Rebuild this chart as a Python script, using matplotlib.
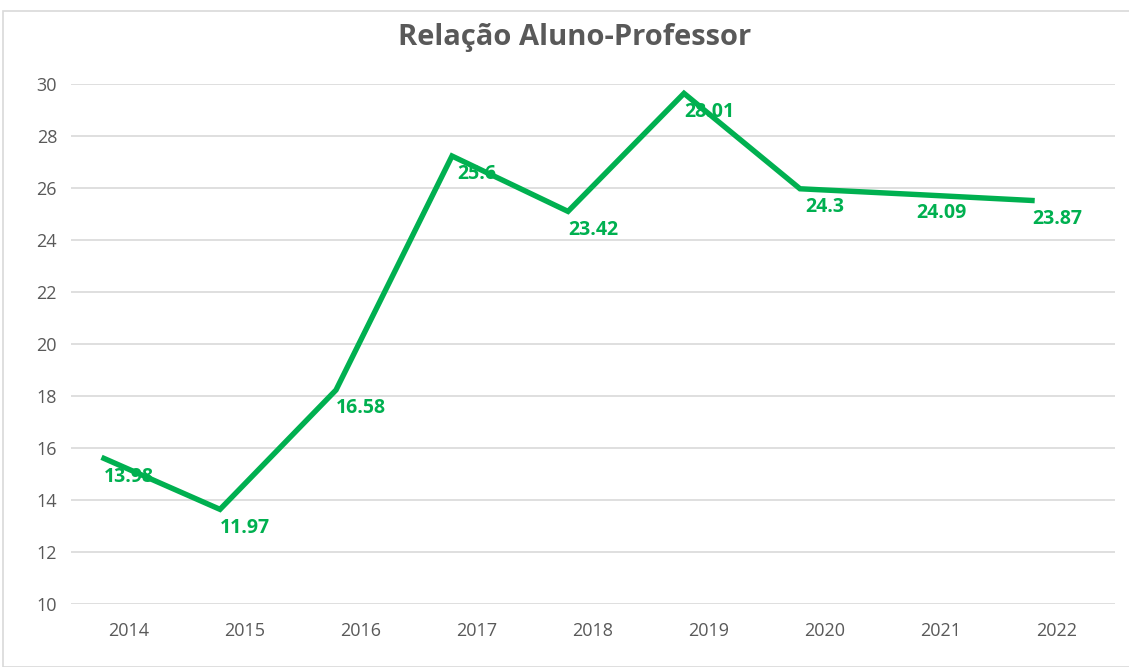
import matplotlib
matplotlib.use("Agg")
import matplotlib.pyplot as plt
from matplotlib.patches import Rectangle
from matplotlib.transforms import ScaledTranslation

years = ["2014", "2015", "2016", "2017", "2018", "2019", "2020", "2021", "2022"]
label_values = [13.98, 11.97, 16.58, 25.6, 23.42, 28.01, 24.3, 24.09, 23.87]
line_values = [15.6, 13.64, 18.23, 27.23, 25.1, 29.64, 25.97, 25.75, 25.52]
yticks = [10, 12, 14, 16, 18, 20, 22, 24, 26, 28, 30]

green = "#00B050"
gray_text = "#595959"
grid_col = "#D9D9D9"
font = "Open Sans"

fig = plt.figure(figsize=(11.29, 6.67), dpi=100)
fig.patches.append(Rectangle((3/1129, 0), 1.2, (667-11)/667, transform=fig.transFigure,
                             fill=False, edgecolor=grid_col, linewidth=1.2))
ax = fig.add_axes([71/1129, 63/667, (1115-71)/1129, (604-84)/667])
x = list(range(len(years)))

shift = ScaledTranslation(-25/100, 0, fig.dpi_scale_trans)
ax.plot(x, line_values, color=green, linewidth=3.9, solid_joinstyle="miter",
        transform=ax.transData + shift, zorder=3, clip_on=False)
for xi, yv, lab in zip(x, line_values, label_values):
    ax.annotate(f"{lab:g}", (xi, yv), xytext=(0, -6), textcoords="offset points",
                ha="center", va="top", color=green, fontweight="bold",
                fontsize=14, family=font, zorder=4)

ax.set_xlim(-0.5, len(years) - 0.5)
ax.set_ylim(10, 30)
ax.set_yticks(yticks)
ax.set_xticks(x)
ax.set_xticklabels(years)
ax.grid(axis="y", color=grid_col, linewidth=1.2)
ax.set_axisbelow(True)
for s in ax.spines.values():
    s.set_visible(False)
ax.tick_params(length=0, colors=gray_text, labelsize=13, pad=10)
for t in ax.get_xticklabels() + ax.get_yticklabels():
    t.set_family(font)
ax.tick_params(axis="x", pad=13)

fig.text(575/1129, 1 - 37/667, "Relação Aluno-Professor", ha="center", va="center",
         fontsize=21, fontweight="bold", color=gray_text, family=font)

fig.savefig("out.png", dpi=100)
